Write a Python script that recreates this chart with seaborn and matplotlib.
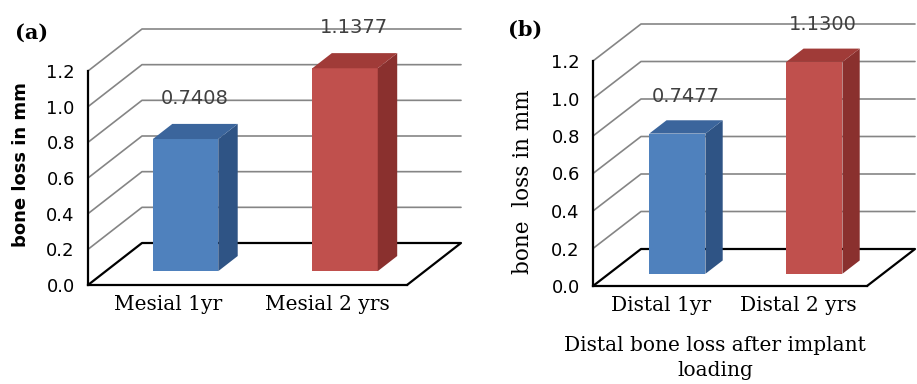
import matplotlib
matplotlib.use("Agg")
import matplotlib.pyplot as plt
from matplotlib.patches import Polygon
import pandas as pd
import seaborn as sns

# ---- data ----
mesial_categories = ["Mesial 1yr", "Mesial 2 yrs"]
mesial_values = [0.7408, 1.1377]
distal_categories = ["Distal 1yr", "Distal 2 yrs"]
distal_values = [0.7477, 1.1300]
y_ticks = [0.0, 0.2, 0.4, 0.6, 0.8, 1.0, 1.2]
y_tick_labels = ["0.0", "0.2", "0.4", "0.6", "0.8", "1.0", "1.2"]
panel_tags = ["(a)", "(b)"]
ylabel_a = "bone loss in mm"
ylabel_b = "bone  loss in mm"
xlabel_b = "Distal bone loss after implant\nloading"

# ---- style ----
W, H = 917, 384
front_colors = ["#4F81BD", "#C0504D"]
side_colors = ["#2F5485", "#8A302E"]
top_colors = ["#3B659C", "#A03B38"]
grid_color = "#858585"
serif = ["DejaVu Serif"]

sns.set_style("white")
plt.rcParams["font.family"] = ["DejaVu Sans"]
plt.rcParams["text.color"] = "black"
plt.rcParams["xtick.color"] = "black"
plt.rcParams["ytick.color"] = "black"

fig = plt.figure(figsize=(W / 100, H / 100), dpi=100)
fig.patch.set_facecolor("white")


def draw_panel(cats, vals, left, right, y0, ytop, dpx, dpy):
    ax = fig.add_axes([left / W, 1 - y0 / H, (right - left) / W, (y0 - ytop) / H])
    ax.set_facecolor("none")
    df = pd.DataFrame({"cat": cats, "val": vals})
    sns.barplot(data=df, x="cat", y="val", hue="cat", palette=front_colors,
                saturation=1, width=0.41, errorbar=None, legend=False, ax=ax,
                linewidth=0, zorder=3)
    ax.set_xlim(-0.5, 1.5)
    ax.set_ylim(0, 1.2)

    # depth offsets expressed in data units
    ddx = dpx / (right - left) * 2.0
    ddy = dpy / (y0 - ytop) * 1.2
    x_back_right = 1.5 + ddx

    # back wall gridlines with the slanted side-wall segment
    for v in y_ticks[1:]:
        ax.plot([-0.5, -0.5 + ddx, x_back_right], [v, v + ddy, v + ddy],
                color=grid_color, lw=1.2, zorder=1, clip_on=False)
    # floor outline
    ax.plot([-0.5, -0.5 + ddx, x_back_right, 1.5], [0, ddy, ddy, 0],
            color="black", lw=1.6, zorder=1.5, clip_on=False)

    # 3D bar faces
    d0, dd = 0.33, 0.36
    bars = sorted(ax.patches, key=lambda p: p.get_x())
    for i, (p, v) in enumerate(zip(bars, vals)):
        x0 = p.get_x() + d0 * ddx
        w = p.get_width()
        yb = d0 * ddy
        p.set_x(x0)
        p.set_y(yb)
        p.set_clip_on(False)
        x1 = x0 + w
        yt = yb + v
        sx, sy = dd * ddx, dd * ddy
        ax.add_patch(Polygon([(x1, yb), (x1 + sx, yb + sy), (x1 + sx, yt + sy), (x1, yt)],
                             closed=True, facecolor=side_colors[i], edgecolor="none",
                             zorder=3, clip_on=False))
        ax.add_patch(Polygon([(x0, yt), (x1, yt), (x1 + sx, yt + sy), (x0 + sx, yt + sy)],
                             closed=True, facecolor=top_colors[i], edgecolor="none",
                             zorder=3, clip_on=False))
        ax.annotate(f"{v:.4f}", xy=(i + ddx / 2, v + ddy), xytext=(0, 9),
                    textcoords="offset points", ha="center", va="center",
                    fontsize=14, color="#404040", zorder=4, annotation_clip=False)

    # axes styling
    for s in ("top", "right"):
        ax.spines[s].set_visible(False)
    ax.spines["left"].set_bounds(0, 1.2)
    ax.spines["left"].set_linewidth(1.6)
    ax.spines["left"].set_color("black")
    ax.spines["bottom"].set_linewidth(1.6)
    ax.spines["bottom"].set_color("black")
    ax.set_yticks(y_ticks)
    ax.set_yticklabels(y_tick_labels)
    ax.tick_params(axis="y", direction="out", length=6.5, width=1.4, pad=3,
                   labelsize=13, colors="black")
    ax.tick_params(axis="x", length=0, pad=7, colors="black")
    for lab in ax.get_xticklabels():
        lab.set_fontfamily(serif)
        lab.set_fontsize(14.5)
        lab.set_color("black")
    ax.set_xlabel("")
    ax.set_ylabel("")
    return ax


draw_panel(mesial_categories, mesial_values, 88, 407, 285, 71, 54, 42)
draw_panel(distal_categories, distal_values, 593, 867, 286, 61, 48, 37)

# panel tags
fig.text(15 / W, 1 - 33 / H, panel_tags[0], fontsize=15, fontweight="bold",
         family=serif, ha="left", va="center", color="black")
fig.text(508 / W, 1 - 30 / H, panel_tags[1], fontsize=15, fontweight="bold",
         family=serif, ha="left", va="center", color="black")

# axis titles
fig.text(21 / W, 1 - 165 / H, ylabel_a, rotation=90, fontsize=13,
         fontweight="bold", ha="center", va="center", color="black")
fig.text(523 / W, 1 - 182 / H, ylabel_b, rotation=90, fontsize=15.5,
         family=serif, ha="center", va="center", color="black")
fig.text(715 / W, 1 - 358 / H, xlabel_b, fontsize=14.5, family=serif,
         ha="center", va="center", linespacing=1.35, color="black")

fig.savefig("out.png", dpi=100, facecolor="white")
